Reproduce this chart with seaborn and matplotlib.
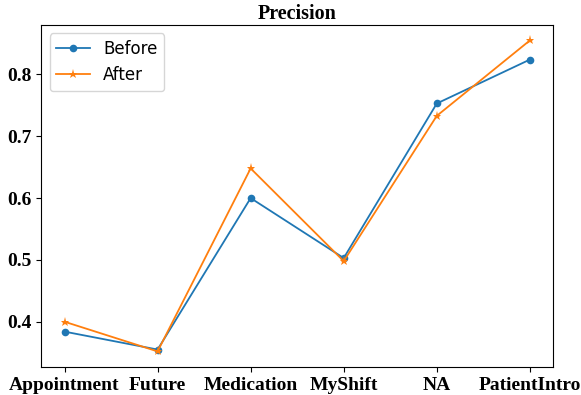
import matplotlib
matplotlib.use("Agg")
import matplotlib.pyplot as plt
import seaborn as sns
import pandas as pd

categories = ["Appointment", "Future", "Medication", "MyShift", "NA", "PatientIntro"]
before = [0.384, 0.355, 0.600, 0.503, 0.753, 0.824]
after = [0.400, 0.352, 0.648, 0.498, 0.733, 0.855]

df_b = pd.DataFrame({"x": range(len(categories)), "y": before})
df_a = pd.DataFrame({"x": range(len(categories)), "y": after})

fig, ax = plt.subplots(figsize=(5.81, 3.95), dpi=100)
sns.lineplot(data=df_b, x="x", y="y", ax=ax, marker="o", color="#1f77b4",
             label="Before", markersize=5.5, markeredgewidth=0, linewidth=1.3)
sns.lineplot(data=df_a, x="x", y="y", ax=ax, marker="*", color="#ff7f0e",
             label="After", markersize=6.5, markeredgewidth=0, linewidth=1.3)

serif = ["Liberation Serif", "DejaVu Serif"]
ax.set_xticks(range(len(categories)))
ax.set_xticklabels(categories, fontfamily=serif, fontweight="bold", fontsize=14)
ax.set_yticks([0.4, 0.5, 0.6, 0.7, 0.8])
ax.set_yticklabels(["0.4", "0.5", "0.6", "0.7", "0.8"], fontfamily=serif,
                   fontweight="bold", fontsize=14)
ax.set_xlabel("")
ax.set_ylabel("")
ax.set_title("Precision", fontfamily=serif, fontweight="bold", fontsize=14.5, pad=4)
ax.legend(loc="upper left", fontsize=12)
fig.subplots_adjust(left=0.071, right=0.952, top=0.937, bottom=0.071)
fig.savefig("out.png", dpi=100)
